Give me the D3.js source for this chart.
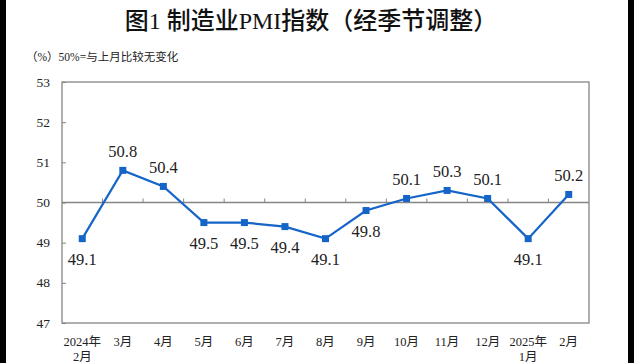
<!DOCTYPE html>
<html>
<head>
<meta charset="utf-8">
<script src="https://cdn.jsdelivr.net/npm/d3@7"></script>
<style>
  body { margin: 0; background: #fff; }
</style>
</head>
<body>
<div id="chart"></div>
<script>
// PMI values, month labels (two lines for year starts), label side
var months = ["2024年|2月", "3月", "4月", "5月", "6月", "7月", "8月", "9月", "10月", "11月", "12月", "2025年|1月", "2月"];
var pmi = [49.1, 50.8, 50.4, 49.5, 49.5, 49.4, 49.1, 49.8, 50.1, 50.3, 50.1, 49.1, 50.2];
var labelAbove = [false, true, true, false, false, false, false, false, true, true, true, false, true];
var yTicks = [47, 48, 49, 50, 51, 52, 53];

function createLineChart(divId) {
  var width = 634, height = 363;
  var left = 62, right = 589, top = 82, bottom = 323;
  var lineColor = "#1565c8";
  var axisColor = "#858585";
  var serif = "'Liberation Serif', 'Times New Roman', 'DejaVu Serif', 'Noto Sans CJK SC', serif";

  var svg = d3.select("#" + divId).append("svg")
    .attr("width", width)
    .attr("height", height)
    .attr("font-family", serif);

  // black side bars of the screenshot
  svg.append("rect").attr("x", 0).attr("y", 0).attr("width", 6).attr("height", height).attr("fill", "#000");
  svg.append("rect").attr("x", 628).attr("y", 0).attr("width", 6).attr("height", height).attr("fill", "#000");

  // title + unit note
  svg.append("text")
    .attr("x", 311).attr("y", 29)
    .attr("text-anchor", "middle")
    .attr("font-size", 24)
    .attr("font-weight", 500)
    .attr("fill", "#111")
    .text("图1  制造业PMI指数（经季节调整）");
  svg.append("text")
    .attr("x", 26).attr("y", 61)
    .attr("font-size", 11.5)
    .attr("fill", "#222")
    .text("（%）50%=与上月比较无变化");

  var xScale = d3.scaleBand().domain(d3.range(months.length)).range([left, right]);
  var yScale = d3.scaleLinear().domain([47, 53]).range([bottom, top]);

  // frame
  svg.append("rect")
    .attr("x", left).attr("y", top)
    .attr("width", right - left).attr("height", bottom - top)
    .attr("fill", "none").attr("stroke", axisColor).attr("stroke-width", 1.3);

  // y axis (ticks inside)
  var yAxis = d3.axisRight(yScale).tickValues(yTicks).tickSize(4).tickFormat("");
  svg.append("g").attr("transform", "translate(" + left + ",0)").call(yAxis)
    .call(function (g) { g.select(".domain").remove(); g.selectAll("line").attr("stroke", axisColor); });
  svg.append("g").selectAll("text").data(yTicks).enter().append("text")
    .attr("x", 50).attr("y", function (d) { return yScale(d) + 4.5; })
    .attr("text-anchor", "end")
    .attr("font-size", 13.5)
    .attr("fill", "#222")
    .text(function (d) { return d; });

  // 50 reference line with ticks at band edges
  var y50 = yScale(50);
  svg.append("line")
    .attr("x1", left).attr("x2", right).attr("y1", y50).attr("y2", y50)
    .attr("stroke", axisColor).attr("stroke-width", 1.3);
  var edges = d3.range(1, months.length).map(function (i) { return xScale(i); });
  svg.append("g").selectAll("line").data(edges).enter().append("line")
    .attr("x1", function (d) { return d; }).attr("x2", function (d) { return d; })
    .attr("y1", y50).attr("y2", y50 - 4)
    .attr("stroke", axisColor).attr("stroke-width", 1);

  // x labels
  var xl = svg.append("g").selectAll("text").data(months).enter().append("text")
    .attr("x", function (d, i) { return xScale(i) + xScale.bandwidth() / 2; })
    .attr("y", 346)
    .attr("text-anchor", "middle")
    .attr("font-size", 12.5)
    .attr("fill", "#222");
  xl.each(function (d) {
    var parts = d.split("|");
    var t = d3.select(this);
    parts.forEach(function (p, k) {
      t.append("tspan")
        .attr("x", t.attr("x"))
        .attr("dy", k === 0 ? 0 : 15)
        .text(p);
    });
  });

  // line + markers
  var cx = function (d, i) { return xScale(i) + xScale.bandwidth() / 2; };
  var line = d3.line().x(cx).y(function (d) { return yScale(d); });
  svg.append("path").datum(pmi)
    .attr("d", line)
    .attr("fill", "none")
    .attr("stroke", lineColor)
    .attr("stroke-width", 2.2);
  svg.append("g").selectAll("rect").data(pmi).enter().append("rect")
    .attr("x", function (d, i) { return cx(d, i) - 3.5; })
    .attr("y", function (d) { return yScale(d) - 3.5; })
    .attr("width", 7).attr("height", 7)
    .attr("fill", lineColor);

  // data labels
  svg.append("g").selectAll("text").data(pmi).enter().append("text")
    .attr("x", cx)
    .attr("y", function (d, i) { return yScale(d) + (labelAbove[i] ? -13 : 26); })
    .attr("text-anchor", "middle")
    .attr("font-size", 16.5)
    .attr("fill", "#222")
    .text(function (d) { return d.toFixed(1); });
}

createLineChart("chart");
</script>
</body>
</html>
